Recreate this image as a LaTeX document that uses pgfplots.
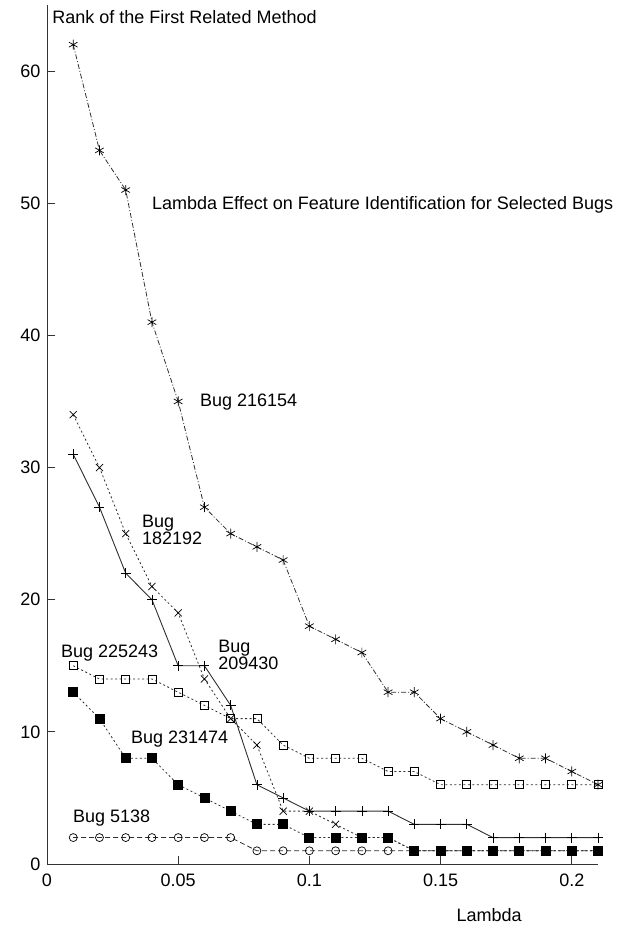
\documentclass[border=0pt]{standalone}
\usepackage{pgfplots}
\pgfplotsset{compat=1.18}
\usepackage{fontspec}
\setmainfont{Liberation Sans}
\definecolor{ln}{HTML}{303030}
\begin{document}
\begin{tikzpicture}
\path[use as bounding box] (-47bp,-62bp) rectangle (574bp,864bp);
\begin{axis}[
  scale only axis,
  width=551bp, height=859bp,
  xmin=0, xmax=0.21, ymin=0, ymax=65,
  axis lines=left,
  axis line style={-, line width=0.9bp, black!80},
  tick align=inside,
  major tick length=8bp,
  tick style={line width=0.8bp, black!80},
  xtick={0,0.05,0.1,0.15,0.2},
  xticklabels={0,0.05,0.1,0.15,0.2},
  ytick={0,10,20,30,40,50,60},
  font=\fontsize{18bp}{20bp}\selectfont,
  /pgf/number format/assume math mode=true,
  xticklabel style={yshift=-6bp},
  yticklabel style={xshift=-3bp},
  clip=false,
]
% Bug 5138
\addplot[ln, line width=0.8bp, dash pattern=on 5bp off 3bp, mark=o, mark size=4bp, mark options={solid, black, line width=0.7bp}] coordinates {
(0.01,2)(0.02,2)(0.03,2)(0.04,2)(0.05,2)(0.06,2)(0.07,2)(0.08,1)(0.09,1)(0.10,1)(0.11,1)(0.12,1)(0.13,1)(0.14,1)(0.15,1)(0.16,1)(0.17,1)(0.18,1)(0.19,1)(0.20,1)(0.21,1)};
% Bug 231474
\addplot[ln, line width=0.8bp, dash pattern=on 2bp off 2.5bp, mark=square*, mark size=4.5bp, mark options={solid, black, fill=black}] coordinates {
(0.01,13)(0.02,11)(0.03,8)(0.04,8)(0.05,6)(0.06,5)(0.07,4)(0.08,3)(0.09,3)(0.10,2)(0.11,2)(0.12,2)(0.13,2)(0.14,1)(0.15,1)(0.16,1)(0.17,1)(0.18,1)(0.19,1)(0.20,1)(0.21,1)};
% Bug 225243
\addplot[ln, line width=0.8bp, dash pattern=on 2bp off 2.5bp, mark=square, mark size=4bp, mark options={solid, black, line width=0.7bp}] coordinates {
(0.01,15)(0.02,14)(0.03,14)(0.04,14)(0.05,13)(0.06,12)(0.07,11)(0.08,11)(0.09,9)(0.10,8)(0.11,8)(0.12,8)(0.13,7)(0.14,7)(0.15,6)(0.16,6)(0.17,6)(0.18,6)(0.19,6)(0.20,6)(0.21,6)};
% Bug 209430
\addplot[ln, line width=0.9bp, solid, mark=+, mark size=5bp, mark options={solid, black, line width=0.7bp}] coordinates {
(0.01,31)(0.02,27)(0.03,22)(0.04,20)(0.05,15)(0.06,15)(0.07,12)(0.08,6)(0.09,5)(0.10,4)(0.11,4)(0.12,4)(0.13,4)(0.14,3)(0.15,3)(0.16,3)(0.17,2)(0.18,2)(0.19,2)(0.20,2)(0.21,2)};
% Bug 182192
\addplot[ln, line width=0.8bp, dash pattern=on 2bp off 2.5bp, mark=x, mark size=5bp, mark options={solid, black, line width=0.7bp}] coordinates {
(0.01,34)(0.02,30)(0.03,25)(0.04,21)(0.05,19)(0.06,14)(0.07,11)(0.08,9)(0.09,4)(0.10,4)(0.11,3)(0.12,2)(0.13,2)(0.14,1)(0.15,1)(0.16,1)(0.17,1)(0.18,1)(0.19,1)(0.20,1)(0.21,1)};
% Bug 216154
\addplot[ln, line width=0.8bp, dash pattern=on 5bp off 2bp on 1bp off 2bp, mark=asterisk, mark size=5bp, mark options={solid, black, line width=0.7bp}] coordinates {
(0.01,62)(0.02,54)(0.03,51)(0.04,41)(0.05,35)(0.06,27)(0.07,25)(0.08,24)(0.09,23)(0.10,18)(0.11,17)(0.12,16)(0.13,13)(0.14,13)(0.15,11)(0.16,10)(0.17,9)(0.18,8)(0.19,8)(0.20,7)(0.21,6)};

\node[anchor=west, inner sep=0pt] at (axis cs:0.002,64.1) {Rank of the First Related Method};
\node[anchor=west, inner sep=0pt] at (axis cs:0.040,49.87) {Lambda Effect on Feature Identification for Selected Bugs};
\node[anchor=west, inner sep=0pt] at (axis cs:0.0583,34.96) {Bug 216154};
\node[anchor=west, inner sep=0pt, align=left, font=\fontsize{18bp}{17bp}\selectfont] at (axis cs:0.0362,25.3) {Bug\\182192};
\node[anchor=west, inner sep=0pt] at (axis cs:0.0053,15.97) {Bug 225243};
\node[anchor=west, inner sep=0pt, align=left, font=\fontsize{18bp}{17bp}\selectfont] at (axis cs:0.0652,15.8) {Bug\\209430};
\node[anchor=west, inner sep=0pt] at (axis cs:0.032,9.46) {Bug 231474};
\node[anchor=west, inner sep=0pt] at (axis cs:0.0099,3.48) {Bug 5138};
\node[anchor=center, inner sep=0pt] at (axis cs:0.1685,-3.86) {Lambda};
\end{axis}
\end{tikzpicture}
\end{document}
